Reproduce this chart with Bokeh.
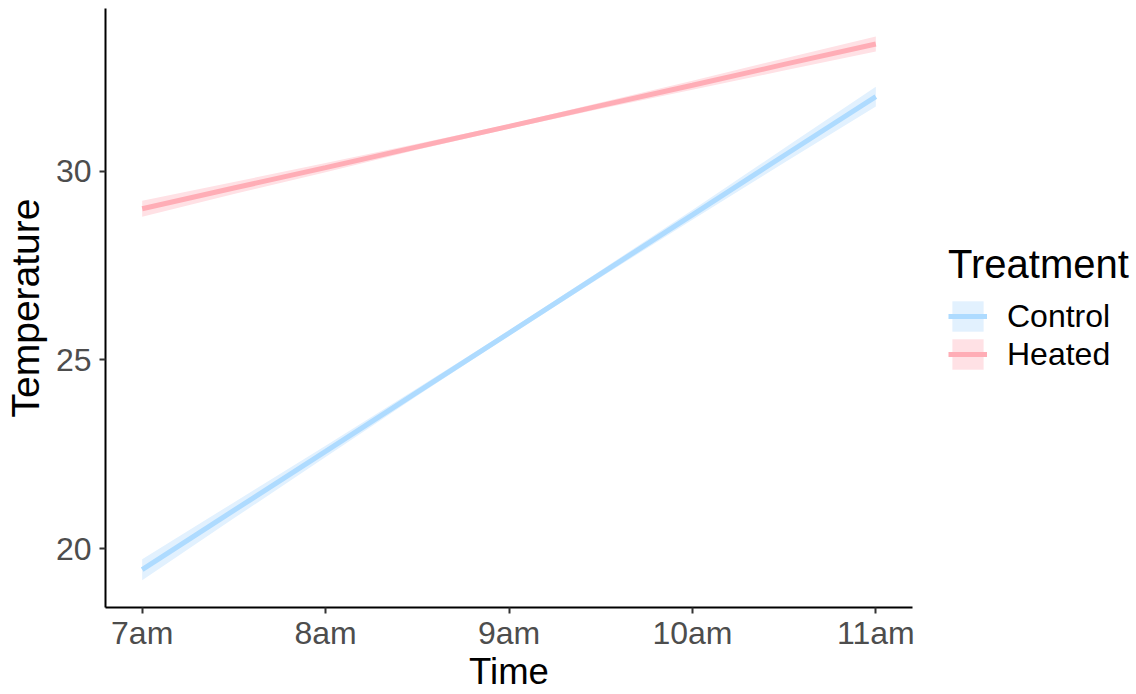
from bokeh.plotting import figure
from bokeh.layouts import row
from bokeh.models import (ColumnDataSource, Range1d, FixedTicker, Legend, LegendItem)
from bokeh.embed import file_html
from bokeh.resources import INLINE

# ---- data ----
hours = [7.0, 7.5, 8.0, 8.5, 9.0, 9.5, 10.0, 10.5, 11.0]
tick_hours = [7, 8, 9, 10, 11]
tick_labels = ["7am", "8am", "9am", "10am", "11am"]

control_fit = [19.45, 21.02, 22.58, 24.15, 25.71, 27.28, 28.84, 30.41, 31.97]
control_lo = [19.17, 20.81, 22.43, 24.05, 25.64, 27.19, 28.71, 30.22, 31.71]
control_hi = [19.73, 21.23, 22.73, 24.25, 25.78, 27.37, 28.97, 30.60, 32.23]

heated_fit = [29.00, 29.55, 30.09, 30.64, 31.18, 31.73, 32.27, 32.82, 33.36]
heated_lo = [28.79, 29.39, 29.97, 30.56, 31.12, 31.65, 32.15, 32.66, 33.16]
heated_hi = [29.21, 29.71, 30.21, 30.72, 31.24, 31.81, 32.39, 32.98, 33.56]

groups = ["Control", "Heated"]
line_colors = ["#AEDBFF", "#FFADB6"]
band_colors = ["#E2F1FE", "#FFE1E5"]

FONT = "Liberation Sans"

p = figure(width=920, height=694, output_backend="svg", toolbar_location=None,
           x_range=Range1d(6.8, 11.2), y_range=Range1d(18.45, 34.3),
           min_border_left=104, min_border_right=8, min_border_top=8,
           min_border_bottom=84)
p.background_fill_color = "white"
p.border_fill_color = "white"
p.outline_line_color = None
p.grid.visible = False

# legend holder panel
lp = figure(width=216, height=694, output_backend="svg", toolbar_location=None,
            x_range=Range1d(1000, 1001), y_range=Range1d(1000, 1001),
            min_border_left=0, min_border_right=0, min_border_top=0,
            min_border_bottom=0)
lp.axis.visible = False
lp.grid.visible = False
lp.outline_line_color = None
lp.background_fill_color = "white"
lp.border_fill_color = "white"

items = []
for name, fit, lo, hi, lc, bc in [
    ("Control", control_fit, control_lo, control_hi, line_colors[0], band_colors[0]),
    ("Heated", heated_fit, heated_lo, heated_hi, line_colors[1], band_colors[1]),
]:
    src = ColumnDataSource(dict(x=hours, y=fit, lo=lo, hi=hi))
    p.varea(x="x", y1="lo", y2="hi", source=src, fill_color=bc, fill_alpha=1.0)
    p.line(x="x", y="y", source=src, line_color=lc, line_width=5)
    # same glyphs in the legend panel (outside its visible range) for the keys
    kb = lp.varea(x="x", y1="lo", y2="hi", source=src, fill_color=bc, fill_alpha=1.0)
    kl = lp.line(x="x", y="y", source=src, line_color=lc, line_width=5)
    items.append(LegendItem(label=name, renderers=[kb, kl]))

# axes
for ax in (p.xaxis[0], p.yaxis[0]):
    ax.axis_line_color = "#000000"
    ax.axis_line_width = 2
    ax.major_tick_line_color = "#333333"
    ax.major_tick_line_width = 2
    ax.major_tick_out = 6
    ax.major_tick_in = 0
    ax.minor_tick_line_color = None
    ax.major_label_text_font = FONT
    ax.major_label_text_font_size = "32px"
    ax.major_label_text_color = "#4D4D4D"
    ax.axis_label_text_font = FONT
    ax.axis_label_text_font_style = "normal"
    ax.axis_label_text_color = "#000000"

p.xaxis.ticker = FixedTicker(ticks=tick_hours)
p.xaxis.major_label_overrides = {h: l for h, l in zip(tick_hours, tick_labels)}
p.xaxis.axis_label = "Time"
p.xaxis.axis_label_text_font_size = "36.5px"
p.xaxis.major_label_standoff = 1
p.xaxis.axis_label_standoff = -3

p.yaxis.ticker = FixedTicker(ticks=[20, 25, 30])
p.yaxis.axis_label = "Temperature"
p.yaxis.axis_label_text_font_size = "39px"
p.yaxis.major_label_standoff = 8
p.yaxis.axis_label_standoff = 6

legend = Legend(items=items, title="Treatment", location=(28, 234),
                orientation="vertical")
legend.title_text_font = FONT
legend.title_text_font_size = "40px"
legend.title_text_font_style = "normal"
legend.title_text_color = "#000000"
legend.title_standoff = 10
legend.label_text_font = FONT
legend.label_text_font_size = "32px"
legend.label_text_color = "#000000"
legend.glyph_width = 39
legend.glyph_height = 38
legend.label_standoff = 20
legend.spacing = 0
legend.padding = 0
legend.margin = 0
legend.border_line_color = None
legend.background_fill_alpha = 0
legend.label_height = 38
lp.add_layout(legend, "center")

layout = row(p, lp, spacing=0)
open("out.html", "w").write(file_html(layout, INLINE))
